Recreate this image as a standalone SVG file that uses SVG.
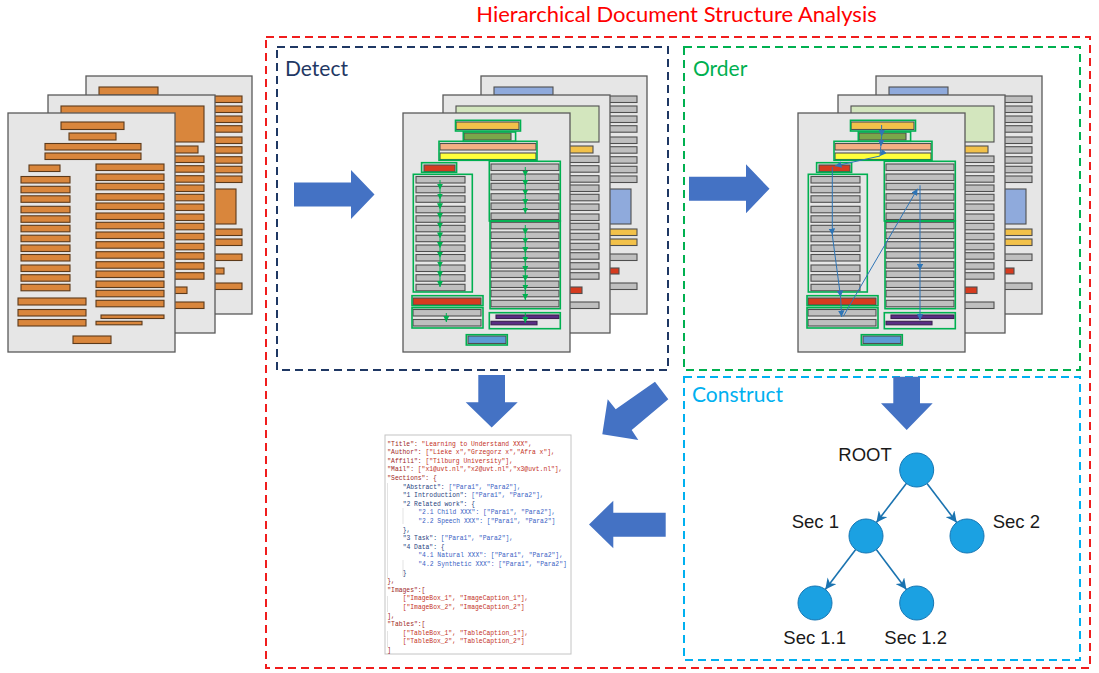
<svg xmlns="http://www.w3.org/2000/svg" xmlns:xlink="http://www.w3.org/1999/xlink" width="1099" height="673" viewBox="0 0 1099 673">
<style>
.pg{fill:#e6e6e6;stroke:#5a5a5a;stroke-width:1.3}
.gr{fill:var(--o,#bfbfbf);stroke:var(--os,#4f4f4f);stroke-width:1.1}
.gold{fill:var(--o,#f2c14a);stroke:var(--os,#4f4f4f);stroke-width:1.1}
.olive{fill:var(--o,#7aa64a);stroke:var(--os,#4f4f4f);stroke-width:1.1}
.peach{fill:var(--o,#f4b183);stroke:var(--os,#4f4f4f);stroke-width:1.1}
.yel{fill:var(--o,#ffff3a);stroke:var(--os,#4f4f4f);stroke-width:1.1}
.red{fill:var(--o,#d63b1f);stroke:var(--os,#4f4f4f);stroke-width:1.1}
.pur{fill:var(--o,#5a2d84);stroke:var(--os,#3a2050);stroke-width:1.1}
.blue{fill:var(--o,#5b9bd5);stroke:var(--os,#4f4f4f);stroke-width:1.1}
.lav{fill:var(--o,#8faadc);stroke:var(--os,#4f4f4f);stroke-width:1.1}
.lg{fill:var(--o,#d3e6be);stroke:var(--os,#4f4f4f);stroke-width:1.1}
.gb{fill:none;stroke:#00b050;stroke-width:1.6}
.ga{fill:none;stroke:#00b050;stroke-width:1;marker-mid:url(#mg);marker-end:url(#mg)}
.ba{fill:none;stroke:#2e75b6;stroke-width:1;marker-mid:url(#mb);marker-end:url(#mb)}
.frame{fill:none;stroke-width:2;stroke-dasharray:8 5}
.lbl{font-family:Lato,"Liberation Sans",sans-serif;font-size:21px}
.blk{fill:#4472c4}
.node{fill:#1ba1e2;stroke:#1777b4;stroke-width:1}
.edge{fill:none;stroke:#1a73b0;stroke-width:1.6;marker-end:url(#mt)}
.tl{font-family:"Liberation Sans",Arial,sans-serif;font-size:18.5px;fill:#1a1a1a}
.js{font-family:"Liberation Mono","DejaVu Sans Mono",monospace;font-size:6.35px}
.k{fill:#a0281e}.v{fill:#c43226}.nk{fill:#2a3f80}.nv{fill:#3a62c4}
.guide{stroke:#dcdcdc;stroke-width:0.8}
</style>
<defs>
<marker id="mg" viewBox="0 0 6 6" refX="6" refY="3" markerWidth="6" markerHeight="6" markerUnits="userSpaceOnUse" orient="auto"><path d="M0,0 L6,3 L0,6z" fill="#00b050"/></marker>
<marker id="mb" viewBox="0 0 6 6" refX="6" refY="3" markerWidth="6.5" markerHeight="6.5" markerUnits="userSpaceOnUse" orient="auto"><path d="M0,0 L6,3 L0,6z" fill="#2e75b6"/></marker>
<marker id="mt" viewBox="0 0 10 10" refX="10" refY="5" markerWidth="11" markerHeight="11" markerUnits="userSpaceOnUse" orient="auto"><path d="M0,0 L10,5 L0,10 L3,5z" fill="#1a73b0"/></marker>
<g id="stack">
 <rect class="pg" x="86" y="76" width="166" height="238"/>
 <rect class="lav" x="99" y="87" width="59" height="8"/>
 <g class="gr">
  <rect x="174" y="96" width="68" height="6.5"/><rect x="174" y="106" width="68" height="6.5"/><rect x="174" y="116" width="68" height="6.5"/><rect x="174" y="125.7" width="68" height="6.5"/><rect x="174" y="137" width="68" height="6.5"/><rect x="174" y="146.7" width="68" height="6.5"/><rect x="174" y="156.7" width="68" height="6.5"/><rect x="174" y="166.3" width="68" height="6.5"/><rect x="174" y="176" width="68" height="6.5"/><rect x="174" y="254" width="68" height="6.5"/><rect x="174" y="283" width="68" height="6.5"/>
 </g>
 <rect class="lav" x="174" y="189" width="62" height="35"/>
 <rect class="gold" x="174" y="229" width="68" height="6.5"/><rect class="gold" x="174" y="239" width="68" height="6.5"/>
 <rect class="red" x="174" y="268" width="50" height="6"/>
 <rect class="pg" x="48" y="95" width="167" height="238"/>
 <rect class="lg" x="61" y="106" width="143" height="36"/>
 <rect class="gold" x="136" y="146" width="62" height="7"/>
 <g class="gr">
  <rect x="136" y="156" width="68" height="6.5"/><rect x="136" y="165.7" width="68" height="6.5"/><rect x="136" y="175.7" width="68" height="6.5"/><rect x="136" y="185" width="68" height="6.5"/><rect x="136" y="194.3" width="68" height="6.5"/><rect x="136" y="204" width="68" height="6.5"/><rect x="136" y="214" width="68" height="6.5"/><rect x="136" y="223.3" width="68" height="6.5"/><rect x="136" y="233.3" width="68" height="6.5"/><rect x="136" y="243.3" width="68" height="6.5"/><rect x="136" y="252.7" width="68" height="6.5"/><rect x="136" y="262.7" width="68" height="6.5"/><rect x="136" y="272.7" width="68" height="6.5"/><rect x="136" y="302" width="68" height="6.5"/>
 </g>
 <rect class="red" x="136" y="287" width="51" height="6.5"/>
 <rect class="pg" x="8" y="113" width="167" height="239"/>
 <rect class="gold" x="61" y="122" width="63" height="7.5"/>
 <rect class="olive" x="69" y="133" width="47" height="7"/>
 <rect class="peach" x="45" y="143.5" width="96" height="6.5"/>
 <rect class="yel" x="45" y="153" width="96" height="6.5"/>
 <rect class="red" x="29" y="165" width="31" height="6.5"/>
 <g class="gr">
  <rect x="21" y="176.5" width="49" height="6.5"/><rect x="21" y="186.3" width="49" height="6.5"/><rect x="21" y="195.8" width="49" height="6.5"/><rect x="21" y="206.3" width="49" height="6.5"/><rect x="21" y="215.8" width="49" height="6.5"/><rect x="21" y="225.3" width="49" height="6.5"/><rect x="21" y="235.2" width="49" height="6.5"/><rect x="21" y="245" width="49" height="6.5"/><rect x="21" y="254.5" width="49" height="6.5"/><rect x="21" y="265" width="49" height="6.5"/><rect x="21" y="274.7" width="49" height="6.5"/><rect x="21" y="284.3" width="49" height="6.5"/>
  <rect x="96" y="164" width="68" height="6.5"/><rect x="96" y="174" width="68" height="6.5"/><rect x="96" y="183.3" width="68" height="6.5"/><rect x="96" y="193.7" width="68" height="6.5"/><rect x="96" y="203" width="68" height="6.5"/><rect x="96" y="213" width="68" height="6.5"/><rect x="96" y="222.3" width="68" height="6.5"/><rect x="96" y="232" width="68" height="6.5"/><rect x="96" y="241.7" width="68" height="6.5"/><rect x="96" y="251.7" width="68" height="6.5"/><rect x="96" y="261.7" width="68" height="6.5"/><rect x="96" y="271" width="68" height="6.5"/><rect x="96" y="281" width="68" height="6.5"/><rect x="96" y="290.3" width="68" height="6.5"/><rect x="96" y="300.3" width="68" height="6.5"/>
  <rect x="18" y="309.5" width="68" height="6.5"/><rect x="18" y="319.5" width="68" height="6.5"/>
 </g>
 <rect class="red" x="18" y="298" width="68" height="7"/>
 <rect class="pur" x="101" y="315" width="63" height="3.5"/><rect class="pur" x="96" y="321.3" width="46" height="3.5"/>
 <rect class="blue" x="73" y="336" width="38" height="7.5"/>
</g>
<g id="gboxes">
 <rect class="gb" x="60.5" y="120.3" width="65" height="10.7"/>
 <rect class="gb" x="68.3" y="132" width="52.3" height="9.3"/>
 <rect class="gb" x="44" y="141.3" width="98" height="19"/>
 <rect class="gb" x="26.6" y="162.7" width="35" height="9.6"/>
 <rect class="gb" x="18.3" y="174.3" width="59" height="117.7"/>
 <rect class="gb" x="94.3" y="161.3" width="71" height="59.7"/>
 <rect class="gb" x="95" y="221" width="70.3" height="87.7"/>
 <rect class="gb" x="17" y="295.7" width="71" height="10"/>
 <rect class="gb" x="17" y="307.7" width="71" height="20.3"/>
 <rect class="gb" x="94.3" y="312.7" width="71" height="16"/>
 <rect class="gb" x="71.3" y="334.7" width="41" height="10.3"/>
</g>
</defs>

<g id="title"><text x="676.5" y="22" text-anchor="middle" class="lbl" style="font-size:22px" fill="#ff0000">Hierarchical Document Structure Analysis</text></g>

<g id="frames">
 <rect class="frame" x="266" y="37" width="824" height="631" stroke="#f01d1d"/>
 <rect class="frame" x="277" y="47" width="391" height="323" stroke="#1f3864"/>
 <rect class="frame" x="684" y="47" width="396" height="323" stroke="#00b050"/>
 <rect class="frame" x="684" y="377" width="396" height="283" stroke="#00b0f0"/>
 <text x="285" y="76" class="lbl" fill="#1f3864">Detect</text>
 <text x="693" y="76" class="lbl" fill="#00b050">Order</text>
 <text x="692" y="402" class="lbl" fill="#00b0f0">Construct</text>
</g>

<g id="input-documents"><use href="#stack" xlink:href="#stack" style="--o:#d9863c;--os:#5c3a1a"/></g>

<g id="detect-documents" transform="translate(395,0)">
 <use href="#stack" xlink:href="#stack"/>
 <use href="#gboxes" xlink:href="#gboxes"/>
 <polyline class="ga" points="45,180 45,189.7 45,199.5 45,209.2 45,218.9 45,228.6 45,238.4 45,248.1 45,257.8 45,267.5 45,277.3 45,287"/>
 <polyline class="ga" points="130.3,167 130.3,176.5 130.3,186 130.3,195.5 130.3,205 130.3,213.5"/>
 <polyline class="ga" points="130.3,225 130.3,234.4 130.3,243.8 130.3,253.1 130.3,262.5 130.3,271.9 130.3,281.3 130.3,290.6 130.3,300"/>
 <polyline class="ga" points="51.3,313 51.3,322"/>
 <polyline class="ga" points="130.3,313 130.3,323"/>
</g>

<g id="order-documents" transform="translate(790,0)">
 <use href="#stack" xlink:href="#stack"/>
 <use href="#gboxes" xlink:href="#gboxes"/>
 <path class="ba" d="M91.6,125 L91.6,136.5 L90.8,146.5 L90,156 L45,166"/>
 <path class="ba" d="M42.3,167 L42.3,235 L50.6,297 L51.6,317"/>
 <path class="ba" d="M53.3,316.3 L127.6,188.7"/>
 <path class="ba" d="M130,185.3 L130,270.3 L130,320.3"/>
</g>

<g id="json-output">
 <rect x="385" y="435" width="186" height="219" fill="#ffffff" stroke="#c4c4c4" stroke-width="1"/>
 <line class="guide" x1="387.5" y1="483" x2="387.5" y2="578"/>
 <line class="guide" x1="403" y1="508" x2="403" y2="524"/>
 <line class="guide" x1="403" y1="560" x2="403" y2="576"/>
 <line class="guide" x1="387.5" y1="596" x2="387.5" y2="612"/>
 <line class="guide" x1="387.5" y1="631" x2="387.5" y2="647"/>
 <g class="js">
  <text x="387.3" y="445.5"><tspan class="k">"Title":</tspan> <tspan class="v">"Learning to Understand XXX",</tspan></text>
  <text x="387.3" y="454.1"><tspan class="k">"Author":</tspan> <tspan class="v">["Lieke x","Grzegorz x","Afra x"],</tspan></text>
  <text x="387.3" y="462.7"><tspan class="k">"Affili":</tspan> <tspan class="v">["Tilburg University"],</tspan></text>
  <text x="387.3" y="471.3"><tspan class="k">"Mail":</tspan> <tspan class="v">["x1@uvt.nl","x2@uvt.nl","x3@uvt.nl"],</tspan></text>
  <text x="387.3" y="479.9"><tspan class="k">"Sections": {</tspan></text>
  <text x="402.7" y="488.5"><tspan class="nk">"Abstract":</tspan> <tspan class="nv">["Para1", "Para2"],</tspan></text>
  <text x="402.7" y="497.1"><tspan class="nk">"1 Introduction":</tspan> <tspan class="nv">["Para1", "Para2"],</tspan></text>
  <text x="402.7" y="505.7"><tspan class="nk">"2 Related work": {</tspan></text>
  <text x="418.3" y="514.3"><tspan class="nv">"2.1 Child XXX":</tspan> <tspan class="nv">["Para1", "Para2"],</tspan></text>
  <text x="418.3" y="522.9"><tspan class="nv">"2.2 Speech XXX":</tspan> <tspan class="nv">["Para1", "Para2"]</tspan></text>
  <text x="402.7" y="531.5" class="nk">},</text>
  <text x="402.7" y="540.1"><tspan class="nk">"3 Task":</tspan> <tspan class="nv">["Para1", "Para2"],</tspan></text>
  <text x="402.7" y="548.7"><tspan class="nk">"4 Data": {</tspan></text>
  <text x="418.3" y="557.3"><tspan class="nv">"4.1 Natural XXX":</tspan> <tspan class="nv">["Para1", "Para2"],</tspan></text>
  <text x="418.3" y="565.9"><tspan class="nv">"4.2 Synthetic XXX":</tspan> <tspan class="nv">["Para1", "Para2"]</tspan></text>
  <text x="402.7" y="574.5" class="nk">}</text>
  <text x="387.3" y="583.1" class="k">},</text>
  <text x="387.3" y="591.7" class="k">"Images":[</text>
  <text x="402.7" y="600.3" class="v">["ImageBox_1", "ImageCaption_1"],</text>
  <text x="402.7" y="608.9" class="v">["ImageBox_2", "ImageCaption_2"]</text>
  <text x="387.3" y="617.5" class="k">],</text>
  <text x="387.3" y="626.1" class="k">"Tables":[</text>
  <text x="402.7" y="634.7" class="v">["TableBox_1", "TableCaption_1"],</text>
  <text x="402.7" y="643.3" class="v">["TableBox_2", "TableCaption_2"]</text>
  <text x="387.3" y="651.9" class="k">]</text>
 </g>
</g>

<g id="node-root"><circle class="node" cx="916.7" cy="470" r="17"/><text class="tl" x="838.3" y="460.7">ROOT</text></g>
<g id="node-sec1"><circle class="node" cx="866" cy="536" r="17"/><text class="tl" x="791.7" y="527.7">Sec 1</text></g>
<g id="node-sec2"><circle class="node" cx="967" cy="536" r="17"/><text class="tl" x="992.7" y="527.7">Sec 2</text></g>
<g id="node-sec11"><circle class="node" cx="815" cy="603" r="17"/><text class="tl" x="783.3" y="644">Sec 1.1</text></g>
<g id="node-sec12"><circle class="node" cx="916.7" cy="603" r="17"/><text class="tl" x="884.3" y="644">Sec 1.2</text></g>

<g id="connectors">
 <polygon class="blk" points="294,182.5 351,182.5 351,170 374.5,194.5 351,219 351,206.5 294,206.5"/>
 <polygon class="blk" points="689,176.7 746,176.7 746,164.3 769.5,188.7 746,213.2 746,200.7 689,200.7"/>
 <polygon class="blk" points="478.3,375 505,375 505,402.3 517.7,402.3 491.7,427.5 465.7,402.3 478.3,402.3"/>
 <polygon class="blk" points="893.3,376.7 920,376.7 920,403.3 932.7,403.3 906.7,430 881,403.3 893.3,403.3"/>
 <polygon class="blk" points="602.3,434.3 607.7,399.3 615.7,409.3 655,381.7 668.3,399.3 631.7,430 638.3,440"/>
 <polygon class="blk" points="589,524.5 613.3,500.7 613.3,512.7 665.7,512.7 665.7,536.7 613.3,536.7 613.3,548.3"/>
 <line class="edge" x1="906.3" y1="483.5" x2="876.4" y2="522.5"/>
 <line class="edge" x1="927" y1="483.5" x2="956.7" y2="522.5"/>
 <line class="edge" x1="855.7" y1="549.5" x2="825.3" y2="589.5"/>
 <line class="edge" x1="876.3" y1="549.5" x2="906.4" y2="589.5"/>
</g>
</svg>
